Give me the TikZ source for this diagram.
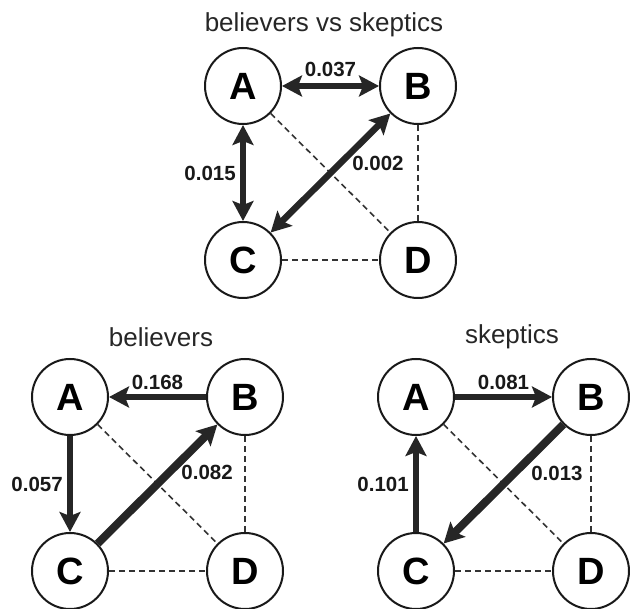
\documentclass[tikz,border=0pt]{standalone}
\usepackage{fontspec}
\setmainfont{Liberation Sans}
\usepackage{tikz}
\usetikzlibrary{shapes,arrows.meta}
\tikzset{netcircle/.style={circle, draw=black!90, line width=2pt, fill=white, minimum size=76pt, inner sep=0pt, font=\fontsize{38}{42}\selectfont\bfseries},
  netedge/.style={draw=black!85, line width=6.5pt},
  netthick/.style={line width=8pt},
  netlabel/.style={font=\fontsize{20.5}{24}\selectfont\bfseries, text=black!90, inner sep=4pt},
  nettitle/.style={font=\fontsize{26}{30}\selectfont, text=black!85}}
\newcommand{\netnode}[3] {\node at (#1) (#2) [netcircle] {#3};}
\newcommand{\nettitle}[3] {\node at (#1) (#2) [nettitle] {#3};}
\newcommand{\netarrow}[5][] {\draw [netedge, #1, -{Stealth[length=20pt,width=21pt,inset=4pt]}] (#2) -- (#3) node [netlabel, #4] {#5};}
\newcommand{\netboth}[5][] {\draw [netedge, #1, {Stealth[length=20pt,width=21pt,inset=4pt]}-{Stealth[length=20pt,width=21pt,inset=4pt]}] (#2) -- (#3) node [netlabel, #4] {#5};}
\newcommand{\netdash}[2] {\draw [black!80, line width=1.6pt, dash pattern=on 6pt off 4pt] (#1) -- (#2);}

\begin{document}
\begin{tikzpicture}[x=1pt, y=-1pt]
\useasboundingbox (0,0) rectangle (630,609);

% believers vs skeptics
\nettitle {324,25}{ttitle}{believers vs skeptics}
\netnode {243,86}{ta}{A}
\netnode {418,86}{tb}{B}
\netnode {243,260}{tc}{C}
\netnode {418,260}{td}{D}
\netdash {ta}{td}
\netdash {tb}{td}
\netdash {tc}{td}
\netboth {ta}{tb}{midway, above, yshift=2pt}{0.037}
\netboth {ta}{tc}{midway, left}{0.015}
\netboth {tc}{tb}{pos=0.58, right, xshift=5pt}{0.002}

% believers
\nettitle {161,337}{btitle}{believers}
\netnode {70,397}{ba}{A}
\netnode {245,397}{bb}{B}
\netnode {70,571}{bc}{C}
\netnode {245,571}{bd}{D}
\netdash {ba}{bd}
\netdash {bb}{bd}
\netdash {bc}{bd}
\netarrow {bb}{ba}{midway, above}{0.168}
\netarrow {ba}{bc}{midway, left}{0.057}
\netarrow [netthick]{bc}{bb}{pos=0.6, right, xshift=4pt}{0.082}

% skeptics
\nettitle {512,337}{stitle}{skeptics}
\netnode {416,397}{sa}{A}
\netnode {591,397}{sb}{B}
\netnode {416,571}{sc}{C}
\netnode {591,571}{sd}{D}
\netdash {sa}{sd}
\netdash {sb}{sd}
\netdash {sc}{sd}
\netarrow {sa}{sb}{midway, above}{0.081}
\netarrow {sc}{sa}{midway, left}{0.101}
\netarrow [netthick]{sb}{sc}{pos=0.41, right, xshift=9pt}{0.013}

\end{tikzpicture}
\end{document}
